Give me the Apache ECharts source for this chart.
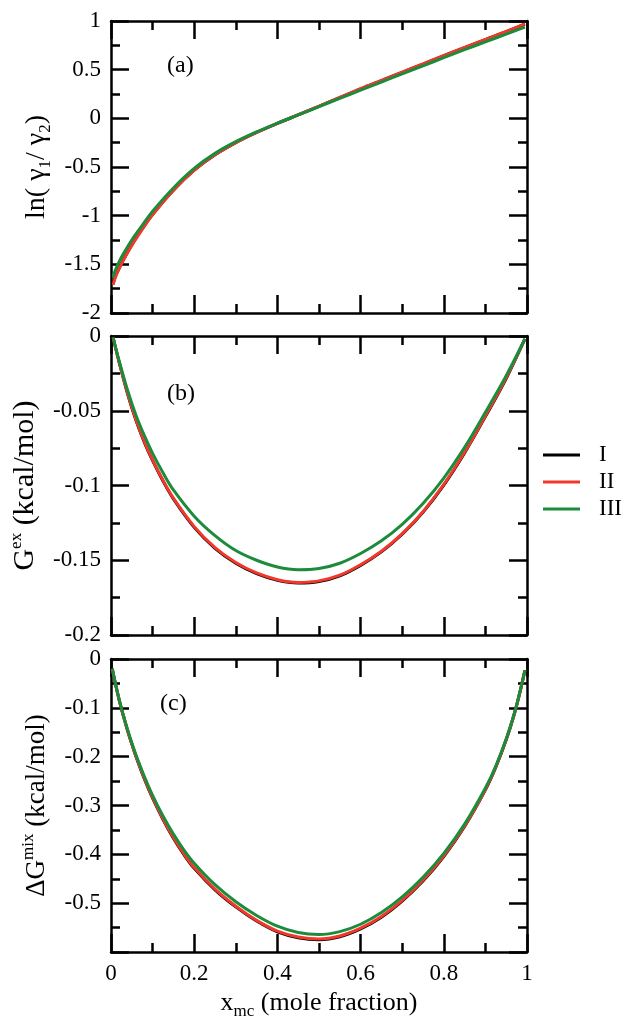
<!DOCTYPE html>
<html>
<head>
<meta charset="utf-8">
<script src="https://cdn.jsdelivr.net/npm/echarts@6/dist/echarts.min.js"></script>
<style>
  html, body { margin: 0; padding: 0; background: #fff; }
  #chart { width: 627px; height: 1021px; }
</style>
</head>
<body>
<div id="chart"></div>
<script>
// panel (a): ln(g1/g2)
const xA = [0.005, 0.01, 0.02, 0.03, 0.05, 0.075, 0.1, 0.15, 0.2, 0.25, 0.3, 0.35, 0.4, 0.45, 0.5, 0.55, 0.6, 0.65, 0.7, 0.75, 0.8, 0.85, 0.9, 0.95, 0.995]
const aI   = [-1.70, -1.63, -1.535, -1.45, -1.30, -1.137, -0.987, -0.738, -0.533, -0.374, -0.249, -0.145, -0.052, 0.036, 0.124, 0.213, 0.303, 0.388, 0.473, 0.558, 0.643, 0.727, 0.809, 0.89, 0.967]
const aII  = [-1.71, -1.64, -1.54, -1.455, -1.305, -1.14, -0.99, -0.74, -0.535, -0.375, -0.25, -0.145, -0.052, 0.037, 0.125, 0.215, 0.305, 0.39, 0.475, 0.56, 0.645, 0.729, 0.811, 0.892, 0.97]
const aIII = [-1.63, -1.565, -1.47, -1.39, -1.25, -1.10, -0.955, -0.715, -0.515, -0.36, -0.24, -0.14, -0.05, 0.035, 0.12, 0.205, 0.289, 0.373, 0.457, 0.54, 0.623, 0.705, 0.786, 0.865, 0.938]

// panel (b): G excess
const xB = [0.005, 0.02, 0.04, 0.06, 0.08, 0.1, 0.125, 0.15, 0.2, 0.25, 0.3, 0.35, 0.4, 0.45, 0.5, 0.55, 0.6, 0.65, 0.7, 0.75, 0.8, 0.85, 0.9, 0.95, 0.995]
const bI   = [-0.001, -0.018, -0.0388, -0.0564, -0.071, -0.0834, -0.097, -0.109, -0.128, -0.142, -0.152, -0.159, -0.1634, -0.1652, -0.1642, -0.1604, -0.1534, -0.1444, -0.1326, -0.1179, -0.0997, -0.0782, -0.0539, -0.0284, -0.002]
const bII  = [-0.001, -0.018, -0.0385, -0.056, -0.0705, -0.083, -0.0965, -0.1085, -0.1275, -0.1415, -0.1515, -0.1585, -0.163, -0.1648, -0.1638, -0.160, -0.153, -0.144, -0.1322, -0.1175, -0.0993, -0.0778, -0.0535, -0.028, -0.002]
const bIII = [-0.001, -0.017, -0.0365, -0.053, -0.0665, -0.0785, -0.0915, -0.103, -0.1205, -0.1335, -0.1435, -0.150, -0.1545, -0.1563, -0.1555, -0.152, -0.1455, -0.137, -0.126, -0.112, -0.095, -0.0745, -0.051, -0.0265, -0.002]

// panel (c): delta G mixing
const xC = [0.003, 0.01, 0.02, 0.03, 0.04, 0.05, 0.06, 0.08, 0.1, 0.125, 0.15, 0.175, 0.2, 0.25, 0.3, 0.35, 0.4, 0.45, 0.5, 0.55, 0.6, 0.65, 0.7, 0.75, 0.8, 0.85, 0.9, 0.925, 0.95, 0.97, 0.985, 0.995]
const cI   = [-0.020, -0.048, -0.085, -0.117, -0.147, -0.174, -0.1995, -0.245, -0.285, -0.3285, -0.3668, -0.400, -0.4285, -0.4725, -0.5075, -0.5365, -0.5585, -0.5705, -0.5745, -0.5685, -0.5525, -0.5285, -0.4955, -0.4545, -0.4045, -0.343, -0.268, -0.2215, -0.1655, -0.111, -0.0605, -0.023]
const cII  = [-0.020, -0.048, -0.085, -0.117, -0.147, -0.1735, -0.199, -0.244, -0.284, -0.3275, -0.3655, -0.3985, -0.427, -0.471, -0.506, -0.535, -0.557, -0.569, -0.573, -0.567, -0.551, -0.527, -0.494, -0.453, -0.403, -0.342, -0.267, -0.221, -0.165, -0.111, -0.0605, -0.023]
const cIII = [-0.020, -0.048, -0.084, -0.116, -0.145, -0.1715, -0.196, -0.240, -0.279, -0.3215, -0.3585, -0.3905, -0.418, -0.462, -0.497, -0.525, -0.547, -0.560, -0.564, -0.558, -0.543, -0.519, -0.487, -0.447, -0.398, -0.338, -0.264, -0.219, -0.164, -0.110, -0.0605, -0.023]

const names = ['I', 'II', 'III']
const colors = ['#000000', '#f2382b', '#1c8c3c']
const font = '"Liberation Serif", serif'

const pair = (xs, ys) => xs.map((x, i) => [x, ys[i]])

const grids = [
  { left: 111, top: 21, width: 416, height: 292 },
  { left: 111, top: 336, width: 416, height: 299 },
  { left: 111, top: 659, width: 416, height: 297 }
]

const tick = { show: true, inside: true, length: 18, lineStyle: { color: '#000', width: 2.5 } }
const minor = { show: true, splitNumber: 2, length: 9, lineStyle: { color: '#000', width: 2.5 } }
const line = { show: true, onZero: false, lineStyle: { color: '#000', width: 2.5 } }
const tickLabel = { color: '#000', fontFamily: font, fontSize: 23, margin: 10 }

const txt = size => ({ fontSize: size, fontFamily: font, color: '#000', lineHeight: 34 })
const sub = { fontSize: 17, fontFamily: font, color: '#000', lineHeight: 17, verticalAlign: 'bottom' }
const sup = { fontSize: 17, fontFamily: font, color: '#000', lineHeight: 17, verticalAlign: 'top' }

const yRanges = [
  { min: -2, max: 1, interval: 0.5, name: '{n|ln( γ}{s|1}{n|/ γ}{s|2}{n|)}', size: 28, gap: 52 },
  { min: -0.2, max: 0, interval: 0.05, name: '{n|G}{p|ex}{n| (kcal/mol)}', size: 30, gap: 58 },
  { min: -0.6, max: 0, interval: 0.1, name: '{n|ΔG}{p|mix}{n| (kcal/mol)}', size: 27, gap: 53 }
]

const xAxis = []
const yAxis = []
grids.forEach((g, i) => {
  xAxis.push({
    type: 'value', gridIndex: i, min: 0, max: 1, interval: 0.2,
    axisLine: line, axisTick: tick, minorTick: minor, splitLine: { show: false },
    axisLabel: Object.assign({ show: i === 2 }, tickLabel),
    name: i === 2 ? '{n|x}{s|mc}{n| (mole fraction)}' : '',
    nameLocation: 'middle', nameGap: 30,
    nameTextStyle: { color: '#000', fontFamily: font, fontSize: 26, lineHeight: 32, rich: { n: txt(26), s: sub } }
  })
})
grids.forEach((g, i) => {
  xAxis.push({
    type: 'value', gridIndex: i, position: 'top', min: 0, max: 1, interval: 0.2,
    axisLine: line, axisTick: tick, minorTick: minor, splitLine: { show: false },
    axisLabel: { show: false }
  })
})
yRanges.forEach((r, i) => {
  yAxis.push({
    type: 'value', gridIndex: i, min: r.min, max: r.max, interval: r.interval,
    axisLine: line, axisTick: tick, minorTick: minor, splitLine: { show: false },
    axisLabel: Object.assign({
      formatter: v => (i === 2 && Math.abs(v + 0.6) < 1e-9) ? '' : String(+v.toFixed(3))
    }, tickLabel),
    name: r.name, nameLocation: 'middle', nameGap: r.gap,
    nameTextStyle: { color: '#000', fontFamily: font, fontSize: r.size, lineHeight: 34, rich: { n: txt(r.size), s: sub, p: sup } }
  })
})
yRanges.forEach((r, i) => {
  yAxis.push({
    type: 'value', gridIndex: i, position: 'right', min: r.min, max: r.max, interval: r.interval,
    axisLine: line, axisTick: tick, minorTick: minor, splitLine: { show: false },
    axisLabel: { show: false }
  })
})

const panels = [[xA, [aI, aII, aIII]], [xB, [bI, bII, bIII]], [xC, [cI, cII, cIII]]]
const series = []
panels.forEach(([xs, ys], i) => {
  ys.forEach((y, k) => {
    series.push({
      name: names[k], type: 'line', xAxisIndex: i, yAxisIndex: i,
      data: pair(xs, y), showSymbol: false, smooth: 0.35,
      lineStyle: { color: colors[k], width: 3 }, itemStyle: { color: colors[k] }
    })
  })
})

const chart = echarts.init(document.getElementById('chart'))
chart.setOption({
  animation: false,
  backgroundColor: '#fff',
  grid: grids,
  xAxis: xAxis,
  yAxis: yAxis,
  legend: {
    data: names, orient: 'vertical', left: 543, top: 443, padding: 0,
    icon: 'rect', itemWidth: 37, itemHeight: 3, itemGap: 3,
    textStyle: { color: '#000', fontFamily: font, fontSize: 23, lineHeight: 24, padding: [0, 0, 0, 14] }
  },
  graphic: [
    { type: 'text', left: 167, top: 54, style: { text: '(a)', font: '24px "Liberation Serif"', fill: '#000' } },
    { type: 'text', left: 167, top: 382, style: { text: '(b)', font: '24px "Liberation Serif"', fill: '#000' } },
    { type: 'text', left: 160, top: 692, style: { text: '(c)', font: '24px "Liberation Serif"', fill: '#000' } }
  ],
  series: series
})
</script>
</body>
</html>
